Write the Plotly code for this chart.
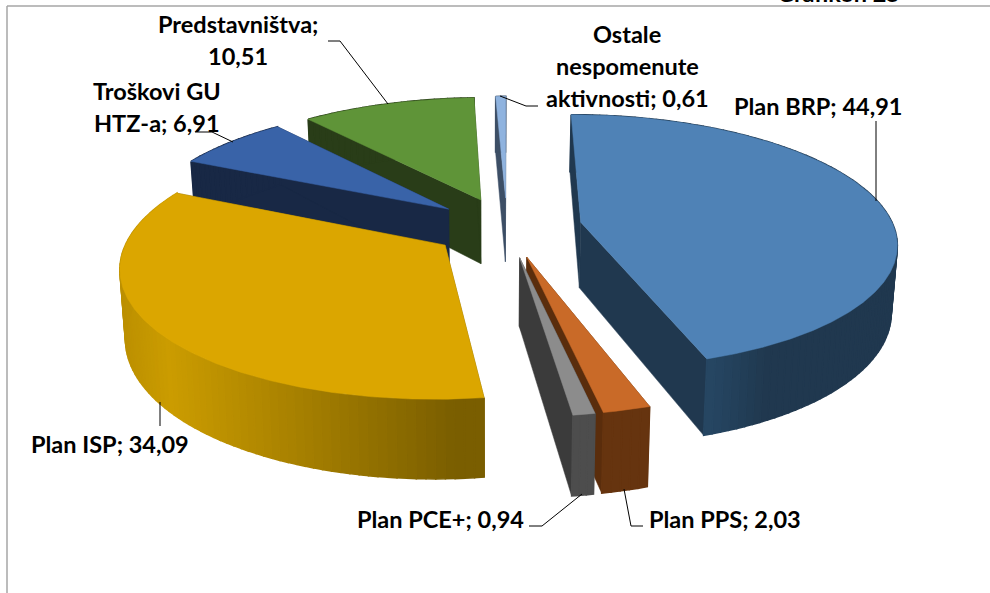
import numpy as np
import plotly.graph_objects as go

# ---- data ----
categories = ["Plan BRP", "Plan PPS", "Plan PCE+", "Plan ISP", "Troškovi GU HTZ-a", "Predstavništva", "Ostale nespomenute aktivnosti"]
values = [44.91, 2.03, 0.94, 34.09, 6.91, 10.51, 0.61]
top_colors = ["#4F82B6", "#C96A28", "#8C8C8C", "#DBA600", "#3963A8", "#5F9438", "#8FB3DF"]
plane_colors = ["#20384F", "#5A2D0C", "#3B3B3B", "#7A5E00", "#182845", "#293D18", "#3D4F66"]
arc_colors = ["#20384F", "#66340F", "#4D4D4D", "#7F6100", "#182845", "#293D18", "#3D4F66"]
label_lines = [["Plan BRP; 44,91"], ["Plan PPS; 2,03"], ["Plan PCE+; 0,94"], ["Plan ISP; 34,09"],
               ["Troškovi GU", "HTZ-a; 6,91"], ["Predstavništva;", "10,51"],
               ["Ostale", "nespomenute", "aktivnosti; 0,61"]]
label_pos = [(818, 106), (725, 519), (440, 519), (110, 444), (157, 107), (238, 40), (627, 66)]
leaders = [[(876, 121), (876, 201)], [(643, 526), (631, 526), (624, 489)], [(529, 526), (542, 526), (582, 494)],
           [(160, 402), (160, 426)], [(195, 132), (212, 132), (233, 142)], [(328, 41), (340, 41), (388, 104)],
           [(500, 96), (526, 106), (538, 106)]]
# painter's order, back to front
draw_order = [6, 5, 4, 3, 0, 1, 2]

# ---- projection ----
CX, CY, R, RY, K, EXPLODE, DEPTH = 507, 227, 313, 125, 0.15, 0.24, 66


def project(x, y, bottom=False):
    x, y = np.asarray(x, float), np.asarray(y, float)
    s = 1 / (1 + K * y)
    sx = CX + R * x * s
    sy = CY - RY * y * s
    if bottom:
        sx = 490 + (sx - 490) * 0.985
        sy = sy + DEPTH * s
    return sx, sy


def poly(xs, ys, color, width=0.5):
    xs, ys = list(xs), list(ys)
    return go.Scatter(x=xs + xs[:1], y=ys + ys[:1], mode="lines", fill="toself", fillcolor=color,
                      line=dict(color=color, width=width), hoverinfo="skip", showlegend=False)


def mix(c1, c2, t):
    a = [int(c1[i:i + 2], 16) for i in (1, 3, 5)]
    b = [int(c2[i:i + 2], 16) for i in (1, 3, 5)]
    return "#%02X%02X%02X" % tuple(round(p + (q - p) * t) for p, q in zip(a, b))


fig = go.Figure()
edges = np.concatenate([[0], np.cumsum(values)]) * 3.6
for i in draw_order:
    a0, a1 = edges[i], edges[i + 1]
    mid = np.radians((a0 + a1) / 2)
    ox, oy = EXPLODE * np.sin(mid), EXPLODE * np.cos(mid)
    th = np.radians(np.linspace(a0, a1, max(3, int((a1 - a0) / 1.5) + 2)))
    fine = np.radians(np.linspace(a0, a1, max(3, int((a1 - a0) * 2) + 2)))
    rx, ry = ox + np.sin(th), oy + np.cos(th)
    tx, ty = project(rx, ry)
    bx, by = project(rx, ry, True)
    ax, ay = project(ox, oy)
    abx, aby = project(ox, oy, True)
    # radial cut faces
    for k in (0, -1):
        fig.add_trace(poly([ax, tx[k], bx[k], abx], [ay, ty[k], by[k], aby], plane_colors[i]))
    # rim: shaded strip by strip
    for k in range(len(th) - 1):
        col = arc_colors[i]
        if i == 3:  # gold rim goes from light on the left to dark at the front
            t = np.clip((tx[k] - 170) / 290, 0, 1)
            col = mix("#CB9C00", "#7A5E00", t) if tx[k] > 170 else mix("#BC9000", "#CB9C00", np.clip((tx[k] - 120) / 50, 0, 1))
        elif i == 0:  # blue rim is a bit lighter next to the cut
            deg = np.degrees(th[k])
            col = mix("#20384F", "#264764", np.clip((deg - 150) / 11, 0, 1))
        fig.add_trace(poly([tx[k], tx[k + 1], bx[k + 1], bx[k]], [ty[k], ty[k + 1], by[k + 1], by[k]], col, 1.5))
    # top face
    fx, fy = project(ox + np.sin(fine), oy + np.cos(fine))
    fig.add_trace(poly([ax, *fx], [ay, *fy], top_colors[i]))

shapes = [
    dict(type="line", x0=7, x1=7, y0=6, y1=593, line=dict(color="#A6A6A6", width=1.5)),
    dict(type="line", x0=7, x1=990, y0=6, y1=6, line=dict(color="#A6A6A6", width=1.5)),
]
for pts in leaders:
    path = "M " + " L ".join(f"{x},{y}" for x, y in pts)
    shapes.append(dict(type="path", path=path, line=dict(color="#000000", width=1)))

font = dict(family="Lato", size=23.5, color="#000000")
bold = lambda s: f"<b>{s}</b>"
annotations = [dict(x=838, xref="x", y=1 + 7 / 593, yref="paper", text=bold("Grafikon 25"), showarrow=False,
                    xanchor="center", yanchor="middle", font=font)]
LINE = 32
for lines, (x, y) in zip(label_lines, label_pos):
    for n, line in enumerate(lines):
        yy = y + (n - (len(lines) - 1) / 2) * LINE
        annotations.append(dict(x=x, y=yy, text=bold(line), showarrow=False, xanchor="center", yanchor="middle", font=font))

fig.update_layout(
    width=990, height=593, margin=dict(l=0, r=0, t=0, b=0), showlegend=False,
    paper_bgcolor="#FFFFFF", plot_bgcolor="#FFFFFF", shapes=shapes, annotations=annotations,
    xaxis=dict(range=[0, 990], visible=False, fixedrange=True),
    yaxis=dict(range=[593, 0], visible=False, fixedrange=True),
)
fig.write_html("out.html", config=dict(displayModeBar=False),
               post_script="document.body.style.margin='0';document.body.style.overflow='hidden';")
